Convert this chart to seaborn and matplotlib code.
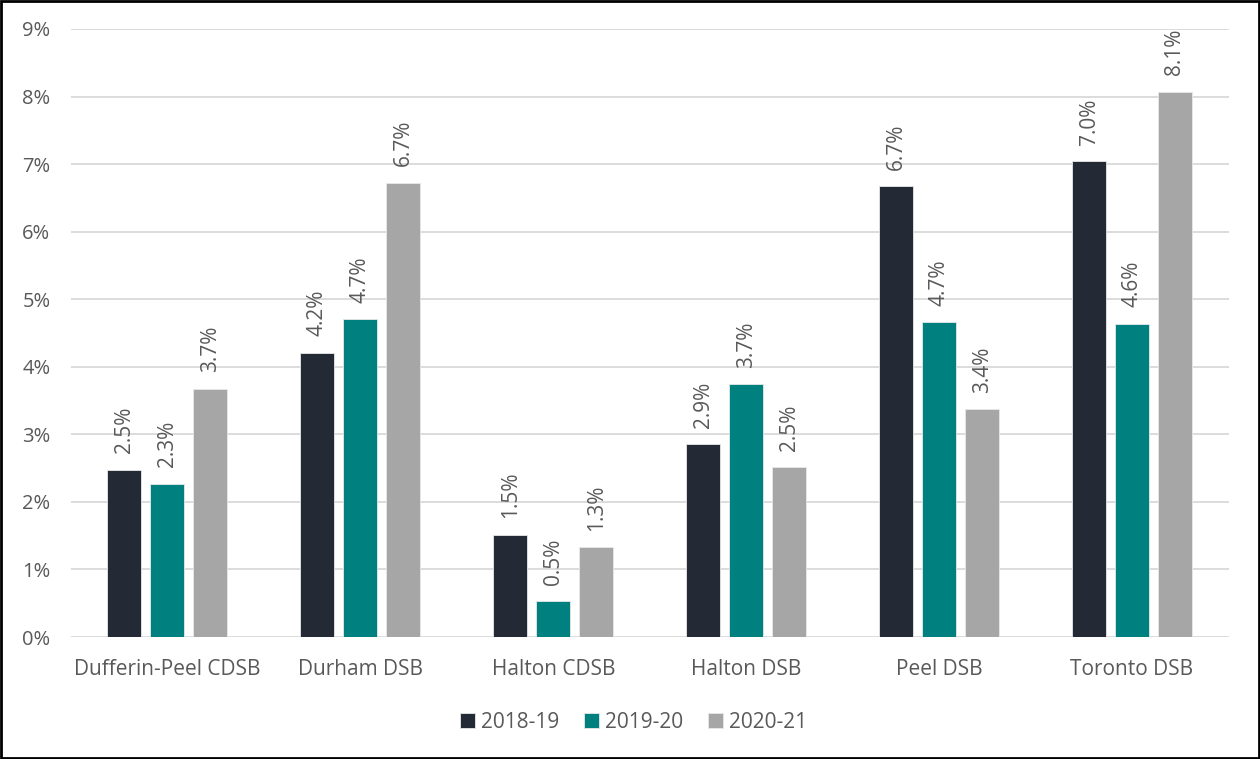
import matplotlib
matplotlib.use("Agg")
import matplotlib.pyplot as plt
import seaborn as sns
import pandas as pd
from matplotlib.patches import Rectangle

categories = ["Dufferin-Peel CDSB", "Durham DSB", "Halton CDSB", "Halton DSB", "Peel DSB", "Toronto DSB"]
years = ["2018-19", "2019-20", "2020-21"]
v2018 = [2.47, 4.21, 1.51, 2.85, 6.67, 7.04]
v2019 = [2.27, 4.70, 0.53, 3.74, 4.66, 4.64]
v2020 = [3.67, 6.72, 1.33, 2.51, 3.37, 8.07]
y_ticks = [0, 1, 2, 3, 4, 5, 6, 7, 8, 9]
colors = ["#232A35", "#00817F", "#A6A6A6"]

rows = []
for yr, vals in zip(years, [v2018, v2019, v2020]):
    for c, v in zip(categories, vals):
        rows.append({"cat": c, "year": yr, "val": v})
df = pd.DataFrame(rows)

sns.set_theme(style="white")
plt.rcParams["font.family"] = ["Open Sans", "DejaVu Sans"]
txt = "#595959"

fig = plt.figure(figsize=(12.6, 7.59), dpi=100)
ax = fig.add_axes([0.0563, 0.1607, 0.9187, 0.8011])
sns.barplot(data=df, x="cat", y="val", hue="year", palette=colors,
            width=0.668, gap=0.21, ax=ax, edgecolor="#e8e8e8", linewidth=0.6,
            saturation=1, legend=True)

ax.set_ylim(0, 9)
ax.set_xlim(-0.5, len(categories) - 0.5)
ax.set_yticks(y_ticks)
ax.set_yticklabels([f"{t}%" for t in y_ticks], color=txt, fontsize=14.5)
ax.tick_params(axis="x", colors=txt, labelsize=15, length=0, pad=16)
ax.tick_params(axis="y", length=0, pad=35)
for lab in ax.get_yticklabels():
    lab.set_horizontalalignment("left")
ax.yaxis.grid(True, color="#d9d9d9", linewidth=1.3)
ax.set_axisbelow(True)
for s in ax.spines.values():
    s.set_visible(False)
ax.set_xlabel("")
ax.set_ylabel("")

for cont in ax.containers:
    ax.bar_label(cont, labels=[f"{v:.1f}%" for v in cont.datavalues],
                 rotation=90, padding=12, color=txt, fontsize=15)

handles, labels = ax.get_legend_handles_labels()
ax.legend(handles, labels, loc="center", bbox_to_anchor=(0.486, -0.14),
          ncol=3, frameon=False, fontsize=15, labelcolor=txt,
          handlelength=0.7, handleheight=0.7, handletextpad=0.3, columnspacing=1.2)

fig.patches.append(Rectangle((0.001, 0.001), 0.998, 0.998, transform=fig.transFigure,
                             fill=False, edgecolor="black", linewidth=2))
fig.savefig("out.png", dpi=100)
